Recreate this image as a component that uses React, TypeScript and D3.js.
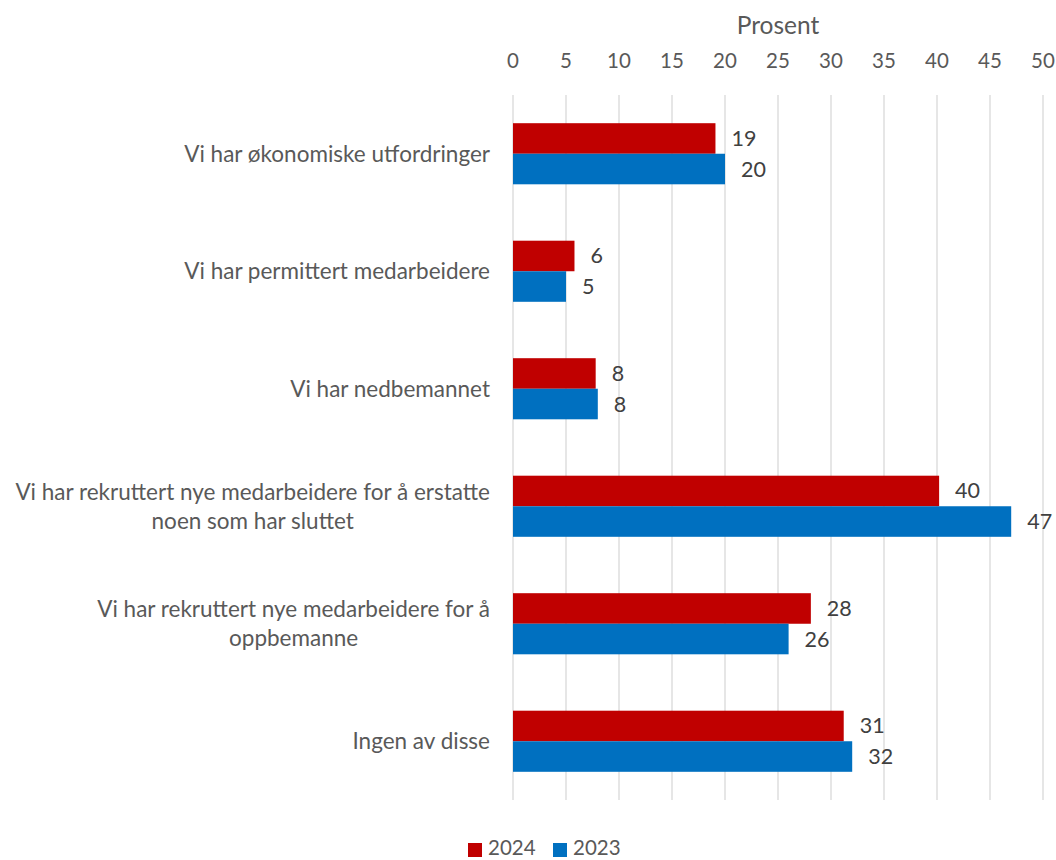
import React, { useEffect, useRef } from 'react';
import * as d3 from 'd3';

const categories = [
  'Vi har økonomiske utfordringer',
  'Vi har permittert medarbeidere',
  'Vi har nedbemannet',
  'Vi har rekruttert nye medarbeidere for å erstatte noen som har sluttet',
  'Vi har rekruttert nye medarbeidere for å oppbemanne',
  'Ingen av disse',
];
const seriesNames = ['2024', '2023'];
const values2024 = [19.1, 5.8, 7.8, 40.2, 28.1, 31.2];
const values2023 = [20.0, 5.0, 8.0, 47.0, 26.0, 32.0];
const xTicks = [0, 5, 10, 15, 20, 25, 30, 35, 40, 45, 50];
const colors = ['#C00000', '#0070C0'];

const FONT = 'Lato, "Open Sans", sans-serif';

const App = () => {
  const ref = useRef<SVGSVGElement | null>(null);

  useEffect(() => {
    document.body.style.margin = '0';
    if (!ref.current) return;
    const svg = d3.select(ref.current);
    svg.selectAll('*').remove();

    const left = 513;
    const right = 1043;
    const top = 95;
    const bottom = 800;

    const x = d3.scaleLinear().domain([0, 50]).range([left, right]);
    const y = d3.scaleBand<string>().domain(categories).range([top, bottom])
      .paddingInner(0.48).paddingOuter(0.24);
    const ySub = d3.scaleBand<string>().domain(seriesNames).range([0, y.bandwidth()]);

    const g = svg.append('g').style('font-family', FONT);

    // gridlines
    g.selectAll('.grid')
      .data(xTicks)
      .enter()
      .append('line')
      .attr('x1', d => x(d))
      .attr('x2', d => x(d))
      .attr('y1', top)
      .attr('y2', bottom)
      .attr('stroke', '#D9D9D9')
      .attr('stroke-width', 1.3);

    // tick labels
    g.selectAll('.tick')
      .data(xTicks)
      .enter()
      .append('text')
      .attr('x', d => x(d))
      .attr('y', 68)
      .attr('text-anchor', 'middle')
      .style('font-size', '20.5px')
      .style('fill', '#595959')
      .text(d => d);

    g.append('text')
      .attr('x', (left + right) / 2)
      .attr('y', 34)
      .attr('text-anchor', 'middle')
      .style('font-size', '24.5px')
      .style('fill', '#595959')
      .text('Prosent');

    const table = categories.map((c, i) => ({
      cat: c,
      vals: [
        { s: seriesNames[0], v: values2024[i] },
        { s: seriesNames[1], v: values2023[i] },
      ],
    }));

    const groups = g.selectAll('.cat')
      .data(table)
      .enter()
      .append('g')
      .attr('transform', d => `translate(0, ${y(d.cat)})`);

    groups.selectAll('rect')
      .data(d => d.vals)
      .enter()
      .append('rect')
      .attr('x', x(0))
      .attr('y', d => ySub(d.s)!)
      .attr('width', d => x(d.v) - x(0))
      .attr('height', ySub.bandwidth())
      .attr('fill', (d, i) => colors[i]);

    groups.selectAll('.val')
      .data(d => d.vals)
      .enter()
      .append('text')
      .attr('x', d => x(d.v) + 16)
      .attr('y', d => ySub(d.s)! + ySub.bandwidth() / 2)
      .attr('dy', '0.35em')
      .style('font-size', '21.5px')
      .style('fill', '#404040')
      .text(d => Math.round(d.v));

    // category labels, wrapped and centred in a right-aligned block
    const maxW = 482;
    const lineH = 29;
    groups.each(function (d) {
      const grp = d3.select(this);
      const t = grp.append('text')
        .style('font-size', '22.5px')
        .style('fill', '#595959')
        .attr('text-anchor', 'middle');
      const words = d.cat.split(' ');
      const lines: string[] = [];
      let cur: string[] = [];
      const probe = t.append('tspan');
      words.forEach(w => {
        const test = [...cur, w].join(' ');
        probe.text(test);
        if ((probe.node() as SVGTSpanElement).getComputedTextLength() > maxW && cur.length) {
          lines.push(cur.join(' '));
          cur = [w];
        } else {
          cur.push(w);
        }
      });
      lines.push(cur.join(' '));
      let blockW = 0;
      lines.forEach(l => {
        probe.text(l);
        blockW = Math.max(blockW, (probe.node() as SVGTSpanElement).getComputedTextLength());
      });
      probe.remove();
      const cx = 490 - blockW / 2;
      const mid = y.bandwidth() / 2;
      const y0 = mid - ((lines.length - 1) * lineH) / 2;
      lines.forEach((l, i) => {
        t.append('tspan')
          .attr('x', cx)
          .attr('y', y0 + i * lineH)
          .attr('dy', '0.35em')
          .text(l);
      });
    });

    // legend
    const legend = g.append('g').attr('transform', 'translate(468, 848)');
    const items = legend.selectAll('.lg')
      .data(seriesNames)
      .enter()
      .append('g')
      .attr('transform', (d, i) => `translate(${i * 85}, 0)`);
    items.append('rect')
      .attr('x', 0)
      .attr('y', -5)
      .attr('width', 14)
      .attr('height', 14)
      .attr('fill', (d, i) => colors[i]);
    items.append('text')
      .attr('x', 20)
      .attr('y', 7)
      .style('font-size', '20.5px')
      .style('fill', '#595959')
      .text(d => d);
  }, []);

  return <svg ref={ref} width={1056} height={860} style={{ display: 'block', background: '#fff' }} />;
};

export default App;
